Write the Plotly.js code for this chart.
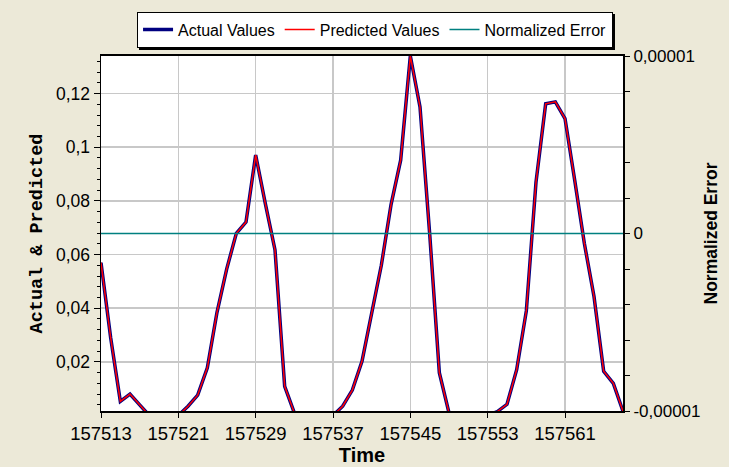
<!DOCTYPE html>
<html>
<head>
<meta charset="utf-8">
<script src="https://cdn.plot.ly/plotly-3.0.1.min.js"></script>
<style>
html,body{margin:0;padding:0;background:#ECE9D8;}
#chart{width:729px;height:467px;}
.legend rect.bg{filter:drop-shadow(2px 2px 0 #000);}
</style>
</head>
<body>
<div id="chart"></div>
<script>
const time = [157513,157514,157515,157516,157517,157518,157519,157520,157521,157522,
  157523,157524,157525,157526,157527,157528,157529,157530,157531,157532,
  157533,157534,157535,157536,157537,157538,157539,157540,157541,157542,
  157543,157544,157545,157546,157547,157548,157549,157550,157551,157552,
  157553,157554,157555,157556,157557,157558,157559,157560,157561,157562,
  157563,157564,157565,157566,157567];

const actualValues = [0.057,0.029,0.0053,0.0080,0.0040,0,0,0,0,0.0035,
  0.0076,0.0178,0.0385,0.0546,0.0679,0.0721,0.0971,0.0790,0.0617,0.0109,
  0.001,0,0,0,0,0.0035,0.0095,0.0202,0.0378,0.0560,
  0.0785,0.0952,0.1340,0.1150,0.0678,0.0160,0.001,0,0,0,
  0,0.0015,0.0042,0.0171,0.0390,0.0870,0.1162,0.1169,0.1107,0.0878,
  0.0642,0.0444,0.0165,0.0120,0.0016];

const predictedValues = [0.057,0.029,0.0053,0.0080,0.0040,0,0,0,0,0.0035,
  0.0076,0.0178,0.0385,0.0546,0.0679,0.0721,0.0971,0.0790,0.0617,0.0109,
  0.001,0,0,0,0,0.0035,0.0095,0.0202,0.0378,0.0560,
  0.0785,0.0952,0.1340,0.1150,0.0678,0.0160,0.001,0,0,0,
  0,0.0015,0.0042,0.0171,0.0390,0.0870,0.1162,0.1169,0.1107,0.0878,
  0.0642,0.0444,0.0165,0.0120,0.0016];

const normalizedError = [0,0,0,0,0,0,0,0,0,0,
  0,0,0,0,0,0,0,0,0,0,
  0,0,0,0,0,0,0,0,0,0,
  0,0,0,0,0,0,0,0,0,0,
  0,0,0,0,0,0,0,0,0,0,
  0,0,0,0,0];

const errorTickVals = [-0.00001,-0.000008,-0.000006,-0.000004,-0.000002,0,0.000002,0.000004,0.000006,0.000008,0.00001];
const errorTickText = ['-0,00001','','','','','0','','','','','0,00001'];

const traces = [
  {x: time, y: actualValues, name: 'Actual Values', type: 'scatter', mode: 'lines',
   line: {color: '#000080', width: 3.5}},
  {x: time, y: predictedValues, name: 'Predicted Values', type: 'scatter', mode: 'lines',
   line: {color: '#FF0000', width: 1.5}},
  {x: time, y: normalizedError, name: 'Normalized Error', type: 'scatter', mode: 'lines',
   yaxis: 'y2', line: {color: '#008080', width: 1.5}}
];

const layout = {
  width: 729, height: 467,
  paper_bgcolor: '#ECE9D8', plot_bgcolor: '#FFFFFF',
  separators: ', ',
  margin: {l: 101, r: 106, t: 55.5, b: 55.5, pad: 0},
  font: {family: 'Liberation Sans, Arial, sans-serif', size: 18, color: '#000'},
  showlegend: true,
  legend: {
    orientation: 'h', xref: 'paper', x: 0.525, xanchor: 'center',
    yref: 'container', y: 0.975, yanchor: 'top',
    bgcolor: '#FFFFFF', bordercolor: '#000', borderwidth: 1,
    font: {family: 'Liberation Sans, Arial, sans-serif', size: 16, color: '#000'},
    traceorder: 'normal'
  },
  xaxis: {
    range: [157513, 157567], tickmode: 'linear', tick0: 157513, dtick: 8,
    tickformat: 'd', tickangle: 0,
    ticks: 'outside', ticklen: 5, tickcolor: '#000', tickwidth: 1,
    showgrid: true, gridcolor: '#C8C8C8', gridwidth: 1.5,
    showline: true, linecolor: '#000', linewidth: 2, mirror: true, zeroline: false,
    tickfont: {size: 18.5},
    title: {text: 'Time', font: {family: 'Liberation Sans, Arial, sans-serif', size: 20, weight: 'bold'}, standoff: 2}
  },
  yaxis: {
    range: [0.0017, 0.134], tickmode: 'linear', tick0: 0, dtick: 0.02,
    ticks: 'outside', ticklen: 6, tickcolor: '#000', tickwidth: 1,
    minor: {dtick: 0.004, ticks: 'outside', ticklen: 3, tickcolor: '#000', showgrid: false},
    showgrid: true, gridcolor: '#C8C8C8', gridwidth: 1.5,
    showline: true, linecolor: '#000', linewidth: 1.5, zeroline: false,
    tickfont: {size: 17.5},
    title: {text: 'Actual & Predicted', font: {family: 'Liberation Mono, Courier New, monospace', size: 18.5, weight: 'bold'}, standoff: 8}
  },
  yaxis2: {
    overlaying: 'y', side: 'right', range: [-0.00001, 0.00001],
    tickmode: 'array', tickvals: errorTickVals, ticktext: errorTickText,
    ticks: 'outside', ticklen: 5, tickcolor: '#000', tickwidth: 1,
    showgrid: false, zeroline: false,
    showline: true, linecolor: '#000', linewidth: 2,
    tickfont: {size: 17},
    title: {text: 'Normalized Error', font: {family: 'Liberation Sans, Arial, sans-serif', size: 17.5, weight: 'bold'}, standoff: 5}
  }
};

Plotly.newPlot('chart', traces, layout, {displayModeBar: false, staticPlot: true});
</script>
</body>
</html>
